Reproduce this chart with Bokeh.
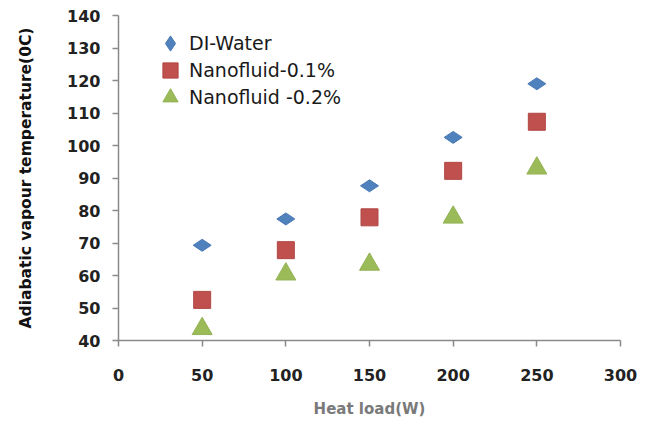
import math
from bokeh.plotting import figure
from bokeh.models import Range1d, FixedTicker, Legend, LegendItem
from bokeh.embed import file_html
from bokeh.resources import INLINE

heat_load = [50, 100, 150, 200, 250]
di_water = [69.3, 77.4, 87.6, 102.5, 119.0]
nano_01 = [52.5, 67.8, 77.9, 92.2, 107.3]
nano_02 = [43.6, 60.4, 63.4, 77.9, 93.0]
series_names = ["DI-Water", "Nanofluid-0.1%", "Nanofluid -0.2%"]
x_ticks = [0, 50, 100, 150, 200, 250, 300]
y_ticks = [40, 50, 60, 70, 80, 90, 100, 110, 120, 130, 140]

FONT = "DejaVu Sans"

p = figure(width=640, height=420, output_backend="svg", toolbar_location=None,
           x_range=Range1d(0, 300), y_range=Range1d(40, 140),
           min_border_left=118, min_border_right=20, min_border_top=15, min_border_bottom=79)
p.outline_line_color = None
p.xgrid.visible = False
p.ygrid.visible = False
p.background_fill_color = "white"
p.border_fill_color = "white"

for ax in (p.xaxis[0], p.yaxis[0]):
    ax.axis_line_color = "#8a8a8a"
    ax.axis_line_width = 1.5
    ax.major_tick_line_color = "#8a8a8a"
    ax.major_tick_line_width = 1.5
    ax.major_tick_out = 6
    ax.major_tick_in = 0
    ax.minor_tick_line_color = None
    ax.major_label_text_font = FONT
    ax.major_label_text_font_size = "16px"
    ax.major_label_text_font_style = "bold"
    ax.major_label_text_color = "#222222"
    ax.axis_label_text_font = FONT

p.xaxis.ticker = FixedTicker(ticks=x_ticks)
p.yaxis.ticker = FixedTicker(ticks=y_ticks)
p.xaxis.major_label_standoff = 22
p.yaxis.major_label_standoff = 12

p.xaxis.axis_label = "Heat load(W)"
p.xaxis.axis_label_text_font_size = "15px"
p.xaxis.axis_label_text_font_style = "bold"
p.xaxis.axis_label_text_color = "#7a7a7a"
p.xaxis.axis_label_standoff = 16

p.yaxis.axis_label = "Adiabatic vapour temperature(0C)"
p.yaxis.axis_label_text_font_size = "15.5px"
p.yaxis.axis_label_text_font_style = "bold"
p.yaxis.axis_label_text_color = "#111111"
p.yaxis.axis_label_standoff = 29

r1 = p.scatter(heat_load, di_water, marker="diamond", size=18, angle=math.pi / 2,
               fill_color="#4F81BD", line_color="#4A7AB5", line_width=1)
r2 = p.scatter(heat_load, nano_01, marker="square", size=17,
               fill_color="#C0504D", line_color="#B04844", line_width=1)
r3 = p.scatter(heat_load, nano_02, marker="triangle", size=20,
               fill_color="#9BBB59", line_color="#93B254", line_width=1)

renderers = [r1, r2, r3]
bottoms = [278, 251, 224]
for name, rend, b in zip(series_names, renderers, bottoms):
    lg = Legend(items=[LegendItem(label=name, renderers=[rend])], location=(33, b))
    lg.margin = 0
    lg.padding = 0
    lg.spacing = 0
    lg.glyph_width = 38
    lg.glyph_height = 38
    lg.label_standoff = 0
    lg.label_text_font = FONT
    lg.label_text_font_size = "19px"
    lg.label_text_color = "#1a1a1a"
    lg.border_line_color = None
    lg.background_fill_alpha = 0
    p.add_layout(lg)

open("out.html", "w").write(file_html(p, INLINE))
